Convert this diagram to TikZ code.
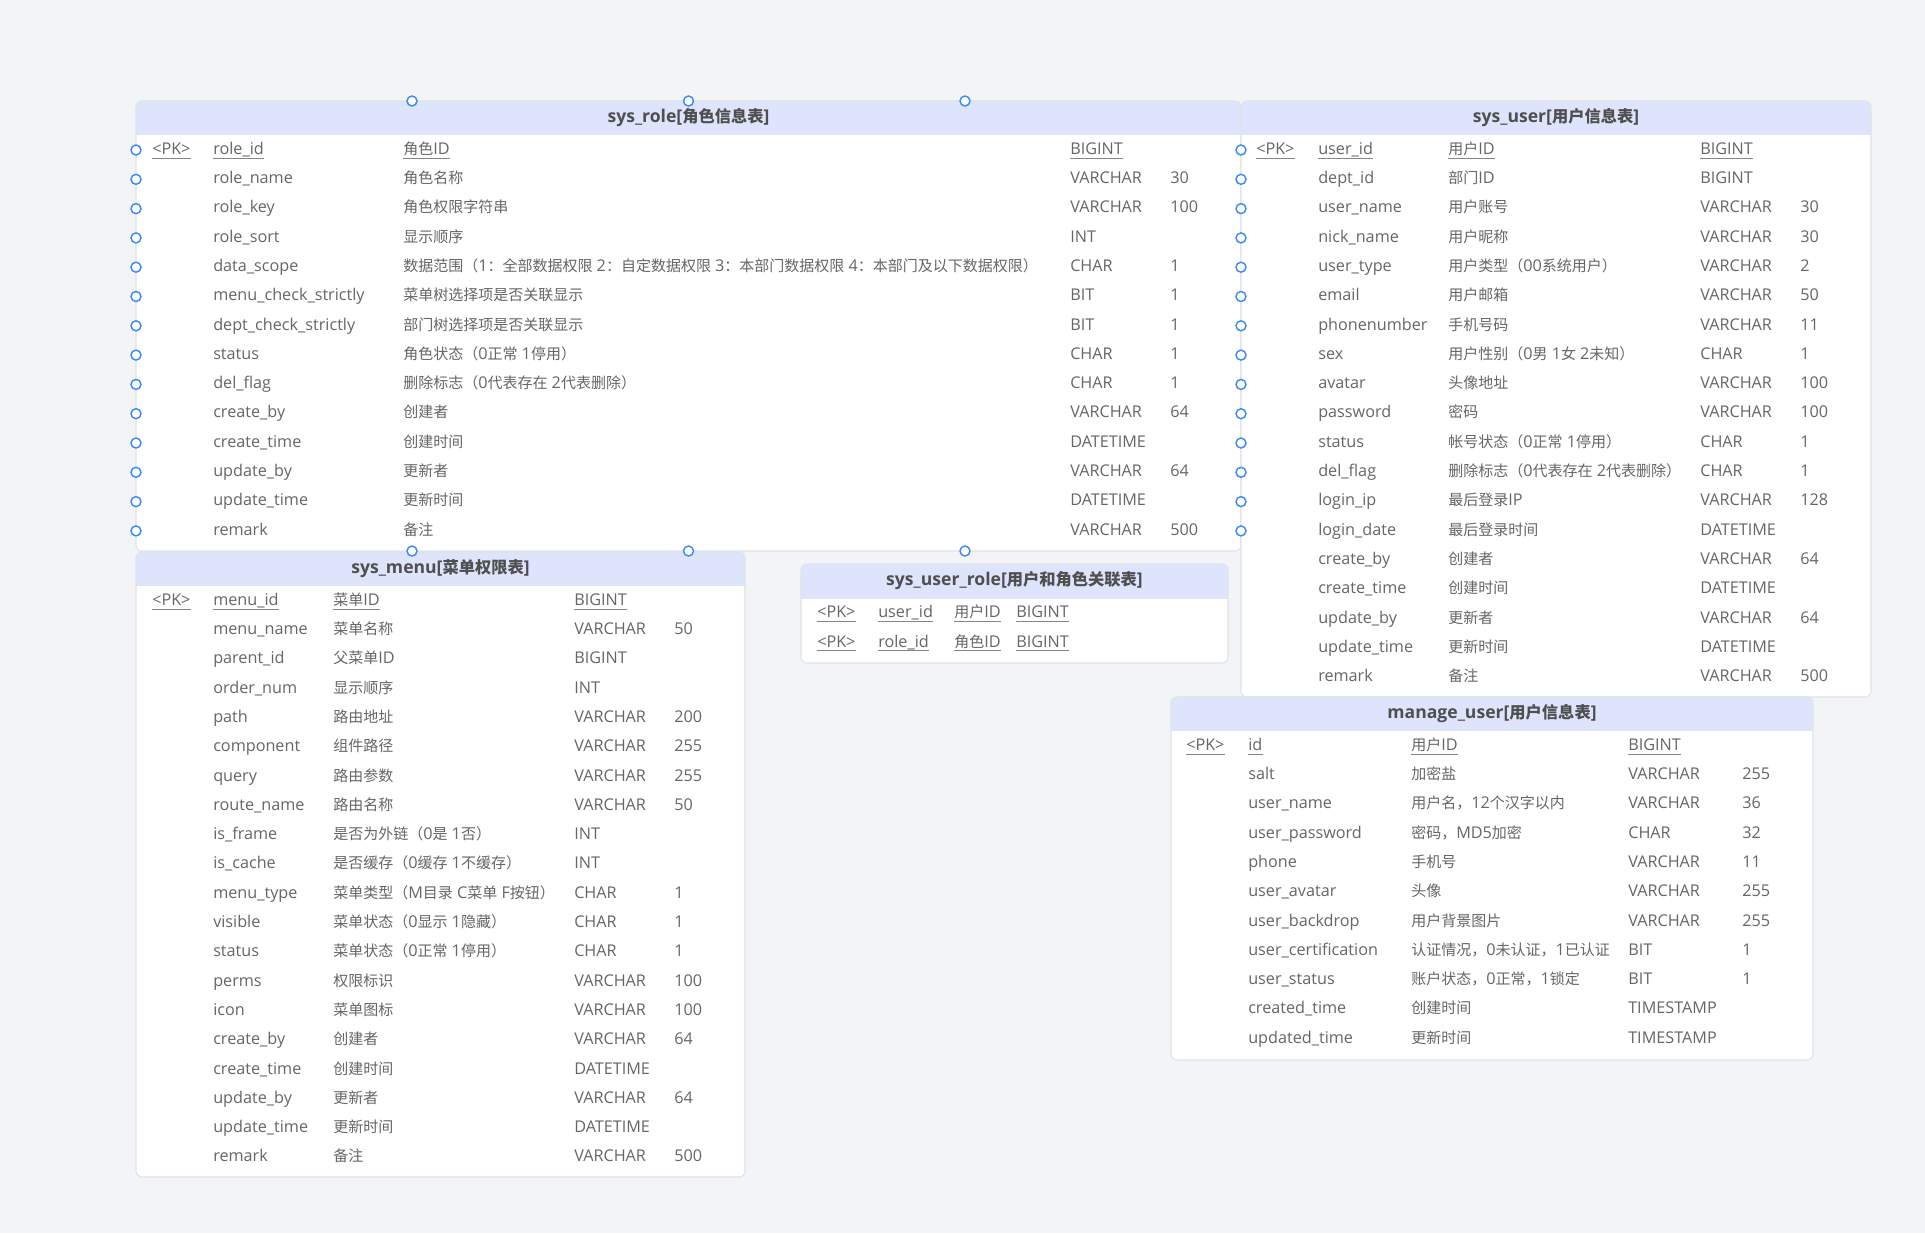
\documentclass[tikz,border=0pt]{standalone}
\usepackage{fontspec}
\setmainfont{Open Sans}[Scale=1.08]
\newfontfamily\latfam{Open Sans}[Scale=1.08]
\newfontfamily\cjkfam{Noto Sans CJK SC}
% Chinese characters and full-width marks go to the CJK family
\newXeTeXintercharclass\cjkclass
\newcount\cjkchar
\cjkchar="4E00 \loop\XeTeXcharclass\cjkchar=\cjkclass
  \advance\cjkchar 1 \ifnum\cjkchar<"A000 \repeat
\cjkchar="3000 \loop\XeTeXcharclass\cjkchar=\cjkclass
  \advance\cjkchar 1 \ifnum\cjkchar<"3040 \repeat
\cjkchar="FF00 \loop\XeTeXcharclass\cjkchar=\cjkclass
  \advance\cjkchar 1 \ifnum\cjkchar<"FFF0 \repeat
\XeTeXinterchartoks 0 \cjkclass = {\cjkfam}
\XeTeXinterchartoks 4095 \cjkclass = {\cjkfam}
\XeTeXinterchartoks \cjkclass 0 = {\latfam}
\XeTeXinterchartoks \cjkclass 4095 = {\latfam}
\XeTeXinterchartokenstate=1
\usepackage{tikz}
\definecolor{canvas}{HTML}{F2F4F5}
\definecolor{tblline}{HTML}{DFE3EA}
\definecolor{hdfill}{HTML}{DDE4FC}
\definecolor{titletext}{HTML}{4F4F4F}
\definecolor{fldtext}{HTML}{666666}
\definecolor{portblue}{HTML}{3C8DF6}
\tikzset{
  tblbox/.style = {draw=tblline, line width=0.8pt, rounded corners=4.5pt},
  tbltitle/.style = {inner sep=0pt, text=titletext,
    font=\bfseries\fontsize{12.2}{14}\selectfont},
  fld/.style = {anchor=west, inner sep=0pt, text height=9pt, text depth=2.6pt,
    text=fldtext, font=\fontsize{11.25}{13}\selectfont},
  keyline/.style = {draw=fldtext!80, line width=0.6pt},
  keyfld/.style = {fld, append after command={
    (\tikzlastnode.south west) edge[keyline] (\tikzlastnode.south east)}},
  port/.style = {circle, draw=portblue, fill=white, line width=1.1pt,
    minimum size=7.5pt, inner sep=0pt}% connection point
}

\begin{document}
\begin{tikzpicture}[x=0.75pt,y=-0.75pt]
\fill[canvas] (0,0) rectangle (1925,1233);

% table frames
\foreach \l/\t/\r/\b/\h in {136/101/1241/551/135, 1241/101/1871/697/135,
    136/552/745/1177/586, 801/564/1228/663/599, 1171/697/1813/1060/731}{
  \begin{scope}
    \clip[rounded corners=4.5pt] (\l,\t) rectangle (\r,\b);
    \fill[white] (\l,\t) rectangle (\r,\b);
    \fill[hdfill] (\l,\t) rectangle (\r,\h);
  \end{scope}
  \draw[tblbox] (\l,\t) rectangle (\r,\b);
}

% sys_role
\node[tbltitle] (role) at (688.5,118) {sys\_role[角色信息表]};
\node[keyfld] (role-pk) at (152,150) {<PK>};
\node[keyfld] (role-n1) at (213,150) {role\_id};
\node[keyfld] (role-c1) at (403,150) {角色ID};
\node[keyfld] (role-t1) at (1070,150) {BIGINT};
\foreach \n/\c/\t/\s [count=\i from 2] in {
    role\_name/角色名称/VARCHAR/30,
    role\_key/角色权限字符串/VARCHAR/100,
    role\_sort/显示顺序/INT/{},
    data\_scope/数据范围（1：全部数据权限 2：自定数据权限 3：本部门数据权限 4：本部门及以下数据权限）/CHAR/1,
    menu\_check\_strictly/菜单树选择项是否关联显示/BIT/1,
    dept\_check\_strictly/部门树选择项是否关联显示/BIT/1,
    status/角色状态（0正常 1停用）/CHAR/1,
    del\_flag/删除标志（0代表存在 2代表删除）/CHAR/1,
    create\_by/创建者/VARCHAR/64,
    create\_time/创建时间/DATETIME/{},
    update\_by/更新者/VARCHAR/64,
    update\_time/更新时间/DATETIME/{},
    remark/备注/VARCHAR/500}{
  \pgfmathsetmacro\y{150+(\i-1)*29.3}
  \node[fld] (role-n\i) at (213,\y) {\n};
  \node[fld] (role-c\i) at (403,\y) {\c};
  \node[fld] (role-t\i) at (1070,\y) {\t};
  \node[fld] (role-s\i) at (1170,\y) {\s};
}

% sys_user
\node[tbltitle] (user) at (1556,118) {sys\_user[用户信息表]};
\node[keyfld] (user-pk) at (1256,150) {<PK>};
\node[keyfld] (user-n1) at (1318,150) {user\_id};
\node[keyfld] (user-c1) at (1448,150) {用户ID};
\node[keyfld] (user-t1) at (1700,150) {BIGINT};
\foreach \n/\c/\t/\s [count=\i from 2] in {
    dept\_id/部门ID/BIGINT/{},
    user\_name/用户账号/VARCHAR/30,
    nick\_name/用户昵称/VARCHAR/30,
    user\_type/用户类型（00系统用户）/VARCHAR/2,
    email/用户邮箱/VARCHAR/50,
    phonenumber/手机号码/VARCHAR/11,
    sex/用户性别（0男 1女 2未知）/CHAR/1,
    avatar/头像地址/VARCHAR/100,
    password/密码/VARCHAR/100,
    status/帐号状态（0正常 1停用）/CHAR/1,
    del\_flag/删除标志（0代表存在 2代表删除）/CHAR/1,
    login\_ip/最后登录IP/VARCHAR/128,
    login\_date/最后登录时间/DATETIME/{},
    create\_by/创建者/VARCHAR/64,
    create\_time/创建时间/DATETIME/{},
    update\_by/更新者/VARCHAR/64,
    update\_time/更新时间/DATETIME/{},
    remark/备注/VARCHAR/500}{
  \pgfmathsetmacro\y{150+(\i-1)*29.3}
  \node[fld] (user-n\i) at (1318,\y) {\n};
  \node[fld] (user-c\i) at (1448,\y) {\c};
  \node[fld] (user-t\i) at (1700,\y) {\t};
  \node[fld] (user-s\i) at (1800,\y) {\s};
}

% sys_menu
\node[tbltitle] (menu) at (440.5,569) {sys\_menu[菜单权限表]};
\node[keyfld] (menu-pk) at (152,601) {<PK>};
\node[keyfld] (menu-n1) at (213,601) {menu\_id};
\node[keyfld] (menu-c1) at (333,601) {菜单ID};
\node[keyfld] (menu-t1) at (574,601) {BIGINT};
\foreach \n/\c/\t/\s [count=\i from 2] in {
    menu\_name/菜单名称/VARCHAR/50,
    parent\_id/父菜单ID/BIGINT/{},
    order\_num/显示顺序/INT/{},
    path/路由地址/VARCHAR/200,
    component/组件路径/VARCHAR/255,
    query/路由参数/VARCHAR/255,
    route\_name/路由名称/VARCHAR/50,
    is\_frame/是否为外链（0是 1否）/INT/{},
    is\_cache/是否缓存（0缓存 1不缓存）/INT/{},
    menu\_type/菜单类型（M目录 C菜单 F按钮）/CHAR/1,
    visible/菜单状态（0显示 1隐藏）/CHAR/1,
    status/菜单状态（0正常 1停用）/CHAR/1,
    perms/权限标识/VARCHAR/100,
    icon/菜单图标/VARCHAR/100,
    create\_by/创建者/VARCHAR/64,
    create\_time/创建时间/DATETIME/{},
    update\_by/更新者/VARCHAR/64,
    update\_time/更新时间/DATETIME/{},
    remark/备注/VARCHAR/500}{
  \pgfmathsetmacro\y{601+(\i-1)*29.3}
  \node[fld] (menu-n\i) at (213,\y) {\n};
  \node[fld] (menu-c\i) at (333,\y) {\c};
  \node[fld] (menu-t\i) at (574,\y) {\t};
  \node[fld] (menu-s\i) at (674,\y) {\s};
}

% sys_user_role
\node[tbltitle] (userrole) at (1014.5,581) {sys\_user\_role[用户和角色关联表]};
\foreach \n/\c [count=\i] in {user\_id/用户ID, role\_id/角色ID}{
  \pgfmathsetmacro\y{613.5+(\i-1)*29.3}
  \node[keyfld] (userrole-pk\i) at (817,\y) {<PK>};
  \node[keyfld] (userrole-n\i) at (878,\y) {\n};
  \node[keyfld] (userrole-c\i) at (954,\y) {\c};
  \node[keyfld] (userrole-t\i) at (1016,\y) {BIGINT};
}

% manage_user
\node[tbltitle] (manage) at (1492,714) {manage\_user[用户信息表]};
\node[keyfld] (manage-pk) at (1186,746) {<PK>};
\node[keyfld] (manage-n1) at (1248,746) {id};
\node[keyfld] (manage-c1) at (1411,746) {用户ID};
\node[keyfld] (manage-t1) at (1628,746) {BIGINT};
\foreach \n/\c/\t/\s [count=\i from 2] in {
    salt/加密盐/VARCHAR/255,
    user\_name/用户名，12个汉字以内/VARCHAR/36,
    user\_password/密码，MD5加密/CHAR/32,
    phone/手机号/VARCHAR/11,
    user\_avatar/头像/VARCHAR/255,
    user\_backdrop/用户背景图片/VARCHAR/255,
    user\_certification/认证情况，0未认证，1已认证/BIT/1,
    user\_status/账户状态，0正常，1锁定/BIT/1,
    created\_time/创建时间/TIMESTAMP/{},
    updated\_time/更新时间/TIMESTAMP/{}}{
  \pgfmathsetmacro\y{746+(\i-1)*29.3}
  \node[fld] (manage-n\i) at (1248,\y) {\n};
  \node[fld] (manage-c\i) at (1411,\y) {\c};
  \node[fld] (manage-t\i) at (1628,\y) {\t};
  \node[fld] (manage-s\i) at (1742,\y) {\s};
}

% sys_role connection points
\foreach \i in {1,...,14}{
  \pgfmathsetmacro\y{150+(\i-1)*29.3}
  \node[port] (role-w\i) at (136,\y) {};
  \node[port] (role-e\i) at (1241,\y) {};
}
\foreach \x [count=\i] in {412,688.5,965}{
  \node[port] (role-top\i) at (\x,101) {};
  \node[port] (role-bot\i) at (\x,551) {};
}
\end{tikzpicture}
\end{document}
